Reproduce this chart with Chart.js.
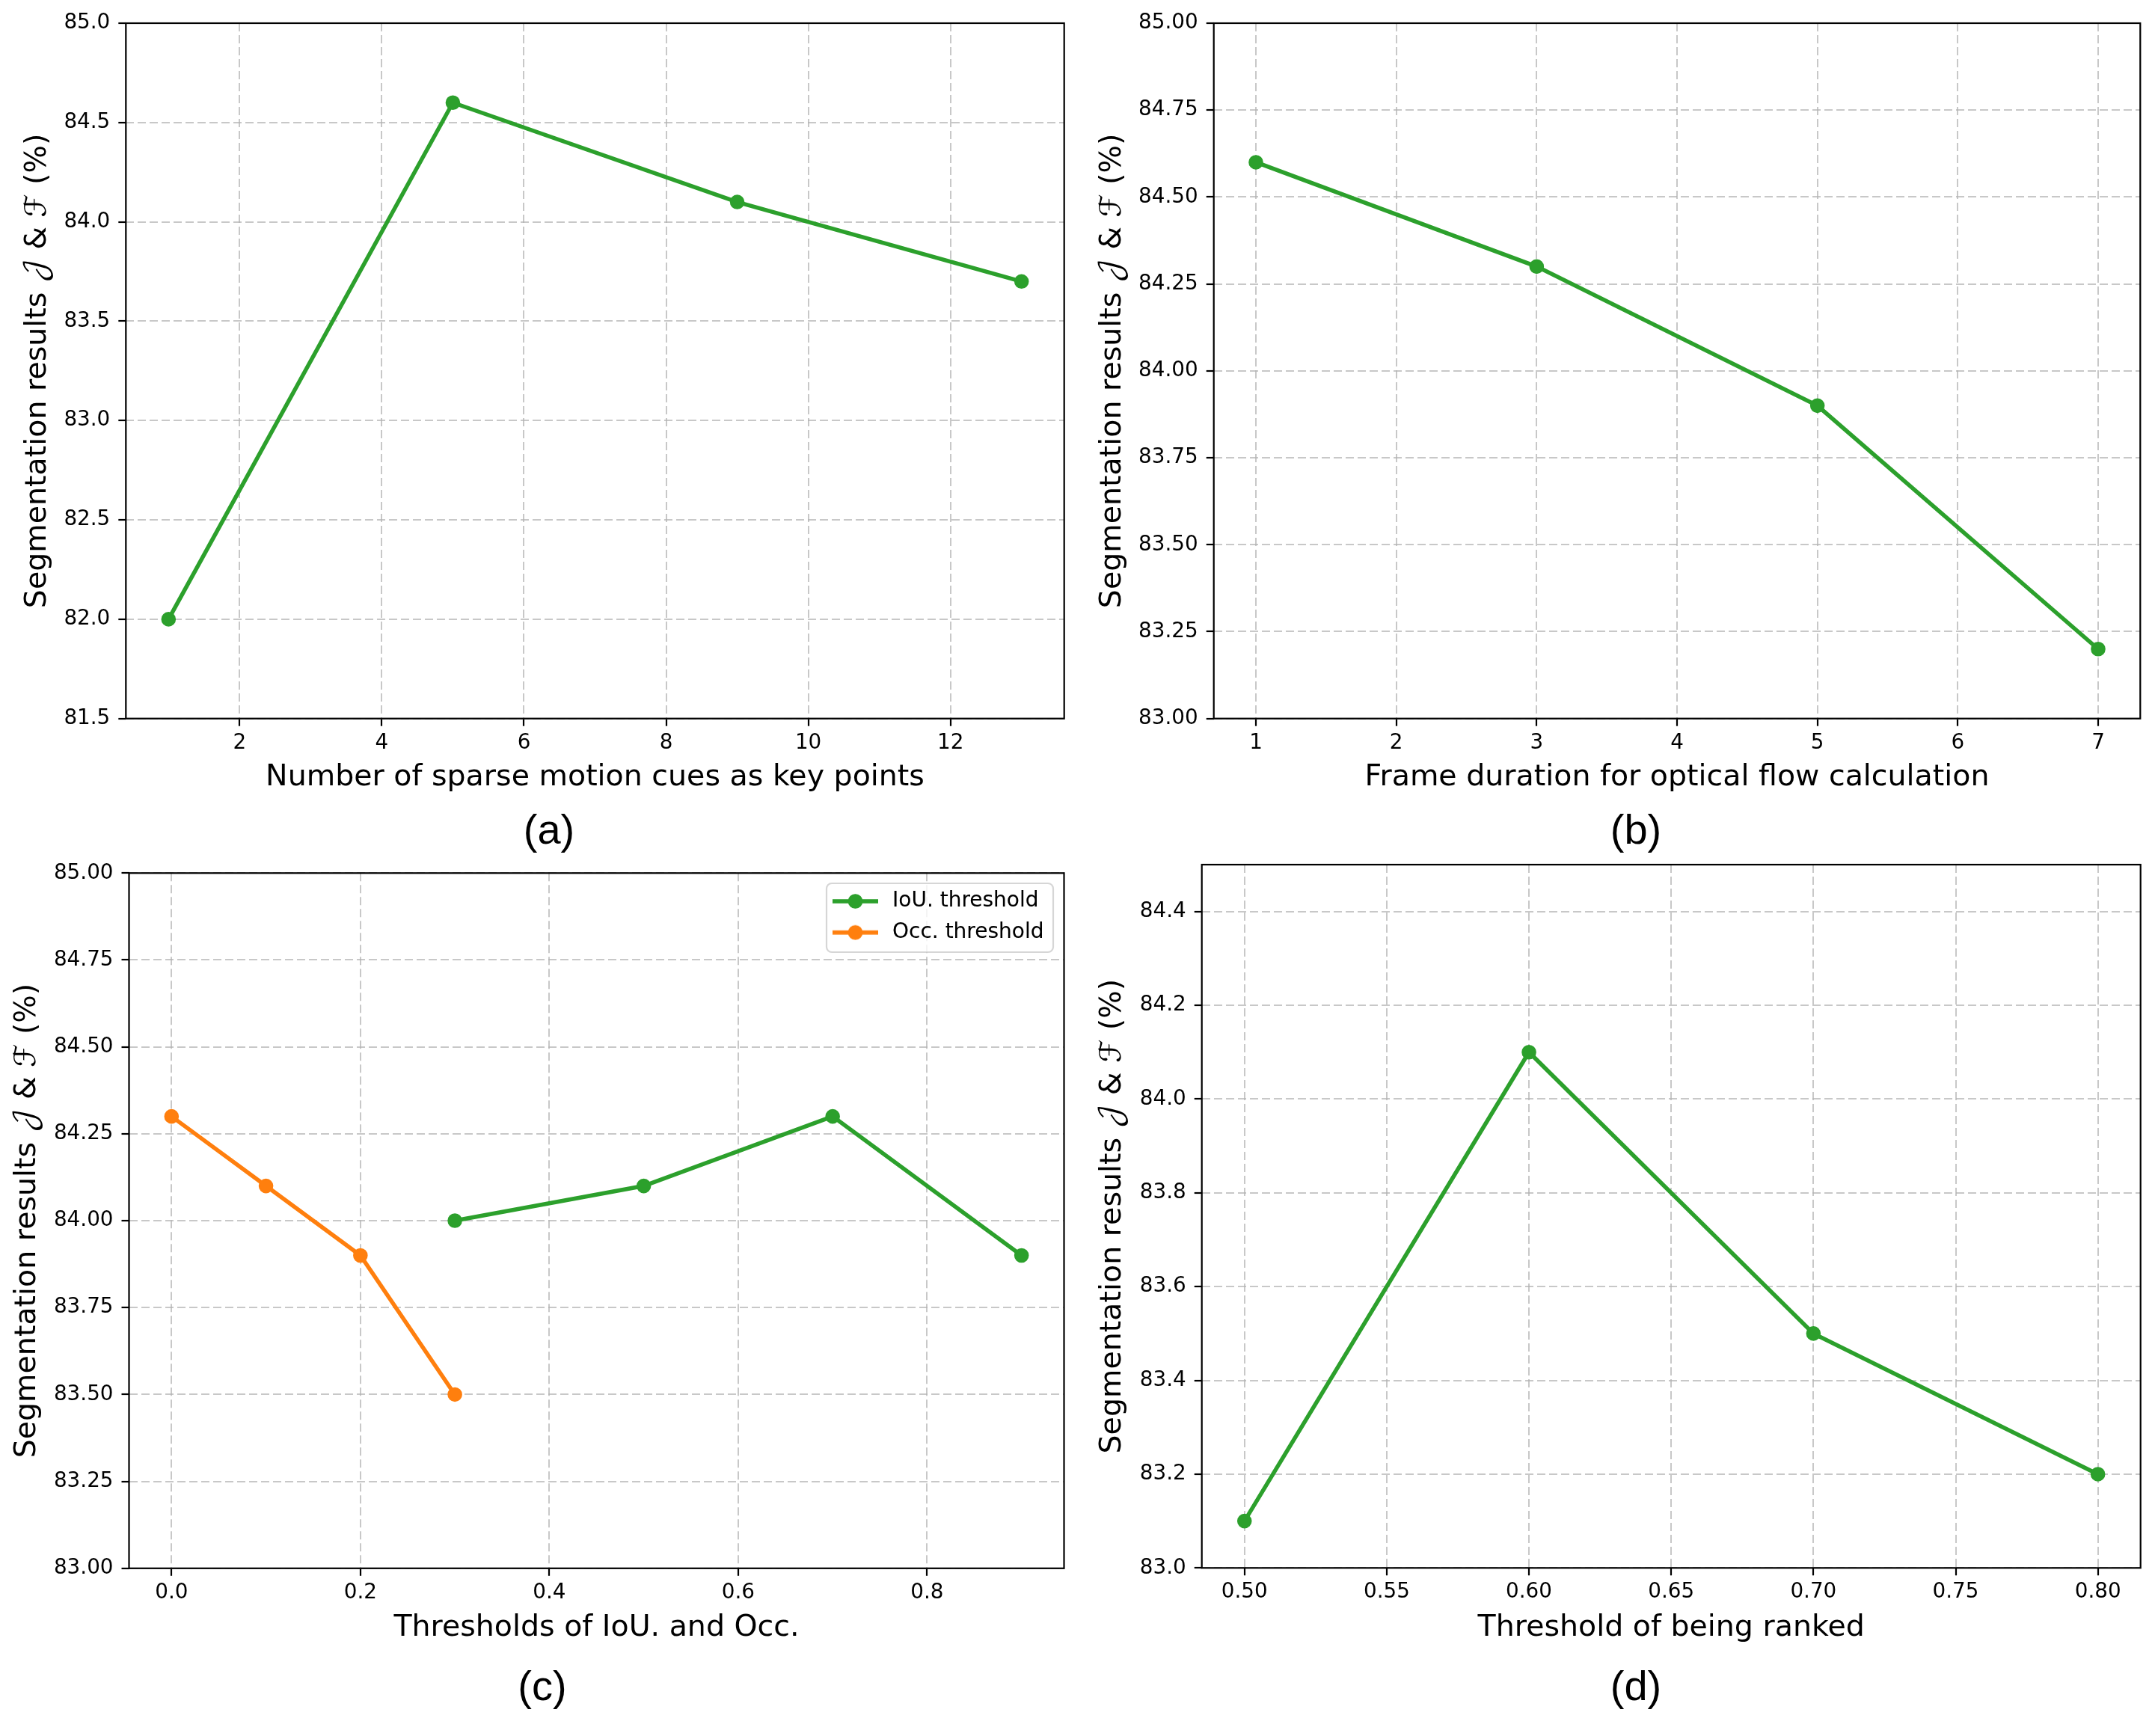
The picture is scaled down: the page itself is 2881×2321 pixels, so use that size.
<!DOCTYPE html>
<html><head><meta charset="utf-8">
<script src="https://cdn.jsdelivr.net/npm/chart.js@4.4.1/dist/chart.umd.min.js"></script>
<style>
html,body{margin:0;padding:0;background:#fff;width:2881px;height:2321px;overflow:hidden;position:relative}
canvas{position:absolute}
</style></head><body>
<canvas id="pa"></canvas><canvas id="pb"></canvas><canvas id="pc"></canvas><canvas id="pd"></canvas>
<script>
// ---------------- data ----------------
const aX = [1, 5, 9, 13];
const aY = [82.0, 84.6, 84.1, 83.7];
const bX = [1, 3, 5, 7];
const bY = [84.6, 84.3, 83.9, 83.2];
const cIouX = [0.3, 0.5, 0.7, 0.9];
const cIouY = [84.0, 84.1, 84.3, 83.9];
const cOccX = [0.0, 0.1, 0.2, 0.3];
const cOccY = [84.3, 84.1, 83.9, 83.5];
const dX = [0.5, 0.6, 0.7, 0.8];
const dY = [83.1, 84.1, 83.5, 83.2];

const aXTicks = [2, 4, 6, 8, 10, 12];
const aYTicks = [81.5, 82.0, 82.5, 83.0, 83.5, 84.0, 84.5, 85.0];
const bXTicks = [1, 2, 3, 4, 5, 6, 7];
const bYTicks = [83.0, 83.25, 83.5, 83.75, 84.0, 84.25, 84.5, 84.75, 85.0];
const cXTicks = [0.0, 0.2, 0.4, 0.6, 0.8];
const cYTicks = [83.0, 83.25, 83.5, 83.75, 84.0, 84.25, 84.5, 84.75, 85.0];
const dXTicks = [0.50, 0.55, 0.60, 0.65, 0.70, 0.75, 0.80];
const dYTicks = [83.0, 83.2, 83.4, 83.6, 83.8, 84.0, 84.2, 84.4];

const aRange = {x: [0.4, 13.6], y: [81.5, 85.0]};
const bRange = {x: [0.7, 7.3], y: [83.0, 85.0]};
const cRange = {x: [-0.045, 0.945], y: [83.0, 85.0]};
const dRange = {x: [0.485, 0.815], y: [83.0, 84.5]};

const yTitle = 'Segmentation results \u{1D4A5} & \u2131 (%)';
const xTitles = ['Number of sparse motion cues as key points', 'Frame duration for optical flow calculation',
                 'Thresholds of IoU. and Occ.', 'Threshold of being ranked'];
const subTitles = ['(a)', '(b)', '(c)', '(d)'];
const seriesLabels = ['IoU. threshold', 'Occ. threshold'];

// ---------------- style ----------------
const GREEN = '#2ca02c', ORANGE = '#ff7f0e';
const TICK_SIZE = 27.8, AXT_SIZE = 39.5, SUB_SIZE = 56, LEG_SIZE = 28;
const FONT = "'DejaVu Sans', 'DejaVu Math TeX Gyre', 'Noto Sans Math', sans-serif";
Chart.defaults.font.family = FONT;
Chart.defaults.color = '#000';

function pts(xs, ys) { return xs.map((x, i) => ({x: x, y: ys[i]})); }

function icon(color) {
  const c = document.createElement('canvas');
  c.width = 61; c.height = 22;
  const g = c.getContext('2d');
  g.strokeStyle = color; g.lineWidth = 5.5;
  g.beginPath(); g.moveTo(0, 11); g.lineTo(61, 11); g.stroke();
  g.fillStyle = color; g.beginPath(); g.arc(30.5, 11, 9.8, 0, Math.PI * 2); g.fill();
  return c;
}

function series(label, xs, ys, color) {
  return {label: label, data: pts(xs, ys), borderColor: color, backgroundColor: color,
    borderWidth: 5.5, pointRadius: 8.6, pointBorderWidth: 2.4, pointBackgroundColor: color,
    pointBorderColor: color, tension: 0, fill: false};
}

function build(id, P, datasets, range, xTicks, yTicks, xDec, yDec, xTitle, sub, legend) {
  const cv = document.getElementById(id);
  cv.width = P.canvas.w; cv.height = P.canvas.h;
  cv.style.left = P.canvas.x + 'px'; cv.style.top = P.canvas.y + 'px';
  cv.style.width = P.canvas.w + 'px'; cv.style.height = P.canvas.h + 'px';

  const padL = 2 * P.subX - P.canvas.x - P.plot.r;
  const padR = P.canvas.x + P.canvas.w - P.plot.r;
  const padT = P.plot.t - P.canvas.y;
  const yW = P.plot.l - P.canvas.x - padL;
  const Hx = 100;
  const lhA = AXT_SIZE * 1.2;
  const yTitlePad = P.yTitleX - P.canvas.x - padL - lhA / 2;
  const xTitlePad = P.plot.b + Hx - P.xTitleY - lhA / 2;
  const lhS = SUB_SIZE * 1.2;
  const subPadTop = P.subY - (P.plot.b + Hx) - lhS / 2;
  const subPadBottom = (P.canvas.y + P.canvas.h) - (P.plot.b + Hx) - subPadTop - lhS;

  const gridCommon = {color: 'rgba(176,176,176,0.7)', lineWidth: 2, drawTicks: true, tickLength: 10,
                      tickColor: '#000', tickWidth: 2.2, tickBorderDash: [], z: -1};
  const borderCommon = {display: false, dash: [11, 5]};

  const framePlugin = {
    id: 'frame' + id,
    afterLayout(chart) {
      if (legend) {
        const L = chart.legend;
        L.left = legend.left - P.canvas.x; L.top = legend.top - P.canvas.y;
        L.right = L.left + L.width + 80; L.bottom = L.top + 300;
      }
    },
    afterDraw(chart) {
      const ctx = chart.ctx, a = chart.chartArea;
      if (legend) {
        const f = legend.frame;
        const x0 = f.l - P.canvas.x, y0 = f.t - P.canvas.y, w = f.r - f.l, h = f.b - f.t, r = 7;
        ctx.save();
        ctx.beginPath();
        ctx.moveTo(x0 + r, y0); ctx.lineTo(x0 + w - r, y0); ctx.arcTo(x0 + w, y0, x0 + w, y0 + r, r);
        ctx.lineTo(x0 + w, y0 + h - r); ctx.arcTo(x0 + w, y0 + h, x0 + w - r, y0 + h, r);
        ctx.lineTo(x0 + r, y0 + h); ctx.arcTo(x0, y0 + h, x0, y0 + h - r, r);
        ctx.lineTo(x0, y0 + r); ctx.arcTo(x0, y0, x0 + r, y0, r); ctx.closePath();
        ctx.fillStyle = 'rgba(255,255,255,0.8)'; ctx.fill();
        ctx.strokeStyle = 'rgba(204,204,204,0.8)'; ctx.lineWidth = 2.2; ctx.stroke();
        ctx.restore();
        chart.legend.draw(chart.chartArea);
      }
      ctx.save();
      ctx.strokeStyle = '#000'; ctx.lineWidth = 2.2;
      ctx.strokeRect(a.left, a.top, a.right - a.left, a.bottom - a.top);
      ctx.restore();
    }
  };

  return new Chart(cv, {
    type: 'line',
    data: {datasets: datasets},
    options: {
      responsive: false, animation: false, devicePixelRatio: 1, events: [],
      layout: {autoPadding: false, padding: {left: padL, right: padR, top: padT, bottom: 0}},
      scales: {
        x: {
          type: 'linear', position: 'bottom', min: range.x[0], max: range.x[1],
          afterBuildTicks: s => { s.ticks = xTicks.map(v => ({value: v})); },
          afterFit: s => { s.height = Hx; },
          ticks: {autoSkip: false, maxRotation: 0, padding: 6, font: {size: TICK_SIZE},
                  callback: v => Number(v).toFixed(xDec)},
          grid: gridCommon, border: borderCommon,
          title: {display: true, text: xTitle, font: {size: AXT_SIZE}, padding: {top: 0, bottom: xTitlePad}}
        },
        y: {
          type: 'linear', position: 'left', min: range.y[0], max: range.y[1],
          afterBuildTicks: s => { s.ticks = yTicks.map(v => ({value: v})); },
          afterFit: s => { s.width = yW; },
          ticks: {padding: 11, font: {size: TICK_SIZE}, callback: v => Number(v).toFixed(yDec)},
          grid: gridCommon, border: borderCommon,
          title: {display: true, text: yTitle, font: {size: AXT_SIZE}, padding: {top: yTitlePad, bottom: 0}}
        }
      },
      plugins: {
        tooltip: {enabled: false},
        legend: legend ? {
          display: true, position: 'chartArea', align: 'start',
          labels: {
            usePointStyle: true, pointStyleWidth: 71, padding: 13.7, color: '#000',
            font: {size: LEG_SIZE},
            generateLabels(chart) {
              const items = Chart.defaults.plugins.legend.labels.generateLabels(chart);
              items.forEach(it => { it.pointStyle = icon(chart.data.datasets[it.datasetIndex].borderColor); });
              return items;
            }
          }
        } : {display: false},
        title: {display: true, position: 'bottom', text: sub, color: '#000',
                font: {family: "'Liberation Sans', Arial, sans-serif", size: SUB_SIZE, weight: 'normal'},
                padding: {top: subPadTop, bottom: subPadBottom}}
      }
    },
    plugins: [framePlugin]
  });
}

const PA = {canvas: {x: 0, y: 0, w: 1440, h: 1150}, plot: {l: 168.3, t: 31, r: 1422.7, b: 960.7},
            yTitleX: 51, xTitleY: 1040, subX: 734, subY: 1113};
const PB = {canvas: {x: 1440, y: 0, w: 1441, h: 1150}, plot: {l: 1622.7, t: 31, r: 2861.3, b: 960.7},
            yTitleX: 1488, xTitleY: 1040, subX: 2187, subY: 1113};
const PC = {canvas: {x: 0, y: 1100, w: 1440, h: 1221}, plot: {l: 172.5, t: 1167.3, r: 1422.5, b: 2096.8},
            yTitleX: 37, xTitleY: 2177, subX: 725, subY: 2258};
const PD = {canvas: {x: 1440, y: 1100, w: 1441, h: 1221}, plot: {l: 1606.7, t: 1156, r: 2861.7, b: 2096.3},
            yTitleX: 1488, xTitleY: 2177, subX: 2187, subY: 2258};

build('pa', PA, [series('a', aX, aY, GREEN)], aRange, aXTicks, aYTicks, 0, 1, xTitles[0], subTitles[0], null);
build('pb', PB, [series('b', bX, bY, GREEN)], bRange, bXTicks, bYTicks, 0, 2, xTitles[1], subTitles[1], null);
build('pc', PC, [series(seriesLabels[0], cIouX, cIouY, GREEN), series(seriesLabels[1], cOccX, cOccY, ORANGE)],
      cRange, cXTicks, cYTicks, 1, 2, xTitles[2], subTitles[2],
      {left: 1094.3, top: 1177.3, frame: {l: 1105, t: 1181, r: 1408, b: 1273}});
build('pd', PD, [series('d', dX, dY, GREEN)], dRange, dXTicks, dYTicks, 2, 1, xTitles[3], subTitles[3], null);
</script>
</body></html>
